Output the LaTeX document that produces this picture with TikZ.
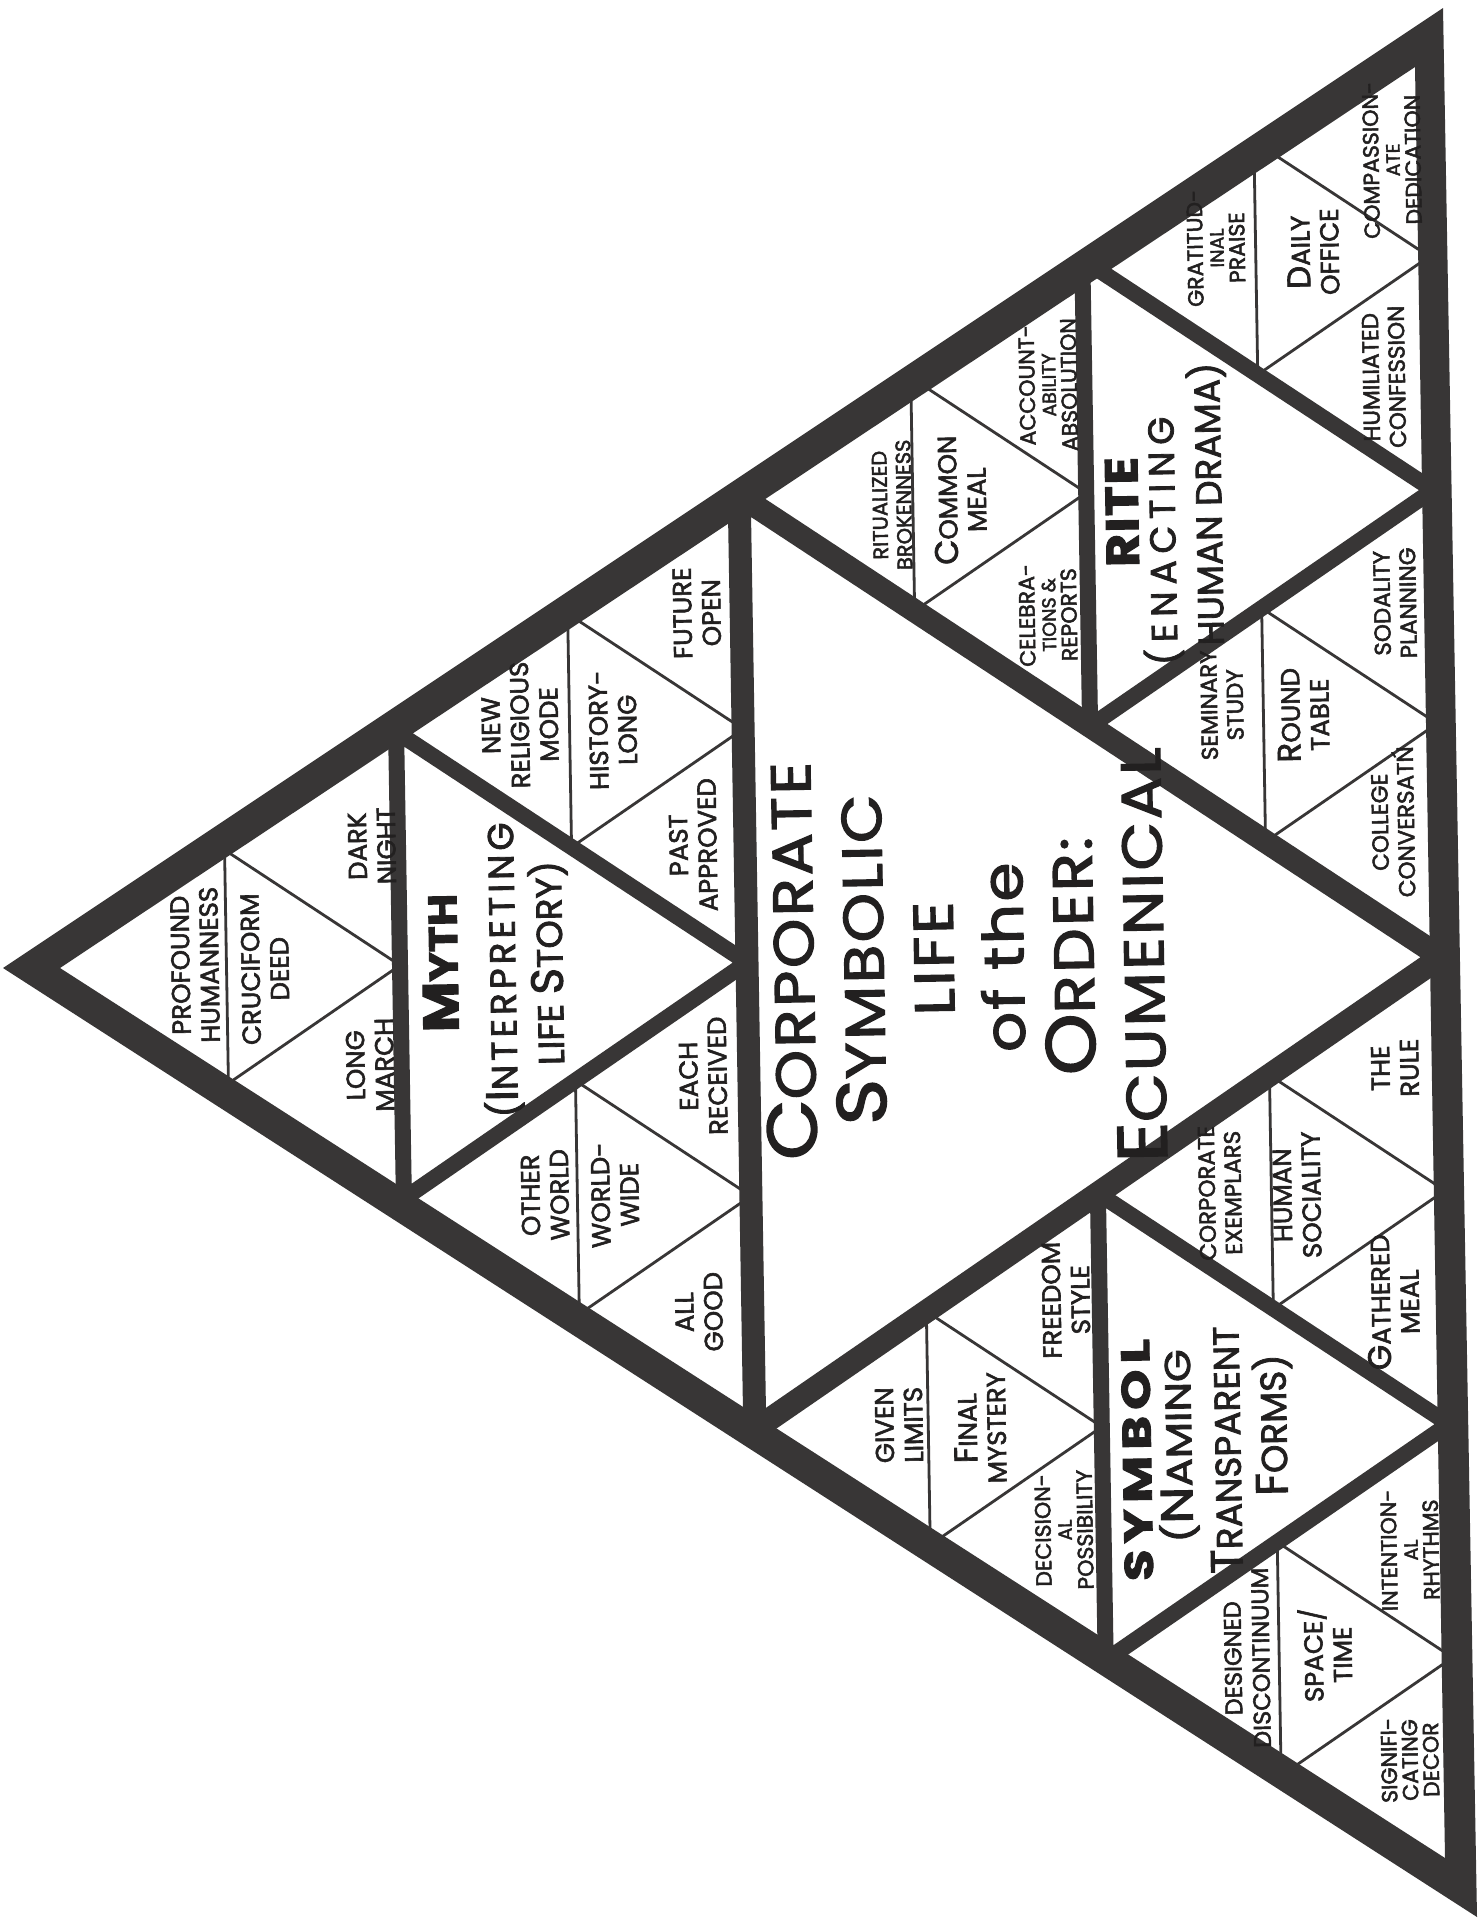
\documentclass[tikz,border=0pt]{standalone}
\usepackage{fontspec}
\usepackage{graphicx}
\setmainfont{Poppins}[FakeBold=2.2]
\definecolor{ink}{RGB}{56,54,54}
\definecolor{txt}{RGB}{34,32,32}
\newcommand\bigc[1]{\scalebox{1.25}{#1}}
\newcommand\md[1]{{\fontsize{9.5}{9.5}\selectfont #1}}
\newcommand\lsp[1]{\addfontfeature{LetterSpace=#1}}
\newcommand\thinsub[2]{\draw[lthree] (#1+0.0625,#2+0.125) -- (#1+0.1875,#2+0.125) -- (#1+0.125,#2) -- cycle;}
\newcommand\medsub[2]{%
  \thinsub{#1}{#2}\thinsub{#1+0.25}{#2}\thinsub{#1+0.125}{#2+0.25}%
  \draw[ltwo] (#1+0.125,#2+0.25) -- (#1+0.375,#2+0.25) -- (#1+0.25,#2) -- cycle;}
\begin{document}
\begin{tikzpicture}[x=0.5pt,y=-0.5pt,
  lone/.style={draw=ink,line width=11.5pt,line cap=round,line join=round},
  ltwo/.style={draw=ink,line width=8pt,line cap=round,line join=round},
  lthree/.style={draw=ink,line width=1.4pt,line cap=round,line join=round},
  lab/.style={rotate=91,align=center,text=txt,inner sep=0pt,font=\fontsize{13}{14.5}\selectfont},
  labs/.style={lab,font=\fontsize{11.5}{13}\selectfont},
  labr/.style={lab,font=\fontsize{10.5}{12}\selectfont},
  labt/.style={lab,font=\fontsize{11}{10.5}\selectfont},
  ttl/.style={rotate=91,text=txt,inner sep=0pt,font=\fontsize{20}{22}\selectfont\bfseries},
  subttl/.style={rotate=91,text=txt,inner sep=0pt,font=\fontsize{18}{20}\selectfont},
  corestyle/.style={rotate=91,xscale=1.12,align=center,text=txt,inner sep=0pt,font=\fontsize{28}{35}\selectfont\addfontfeature{LetterSpace=4}}]
\useasboundingbox[fill=white] (0,0) rectangle (1479,1923);
% --- subdivisions, in a frame whose base runs along the right border
\begin{scope}[shift={(728.3pt,-945.5pt)},x={(-15.6pt,934pt)},y={(-694pt,-5.5pt)}]
  \medsub{0}{0}
  \medsub{0.5}{0}
  \medsub{0.25}{0.5}
  \draw[lone] (0.25,0.5) -- (0.75,0.5) -- (0.5,0) -- cycle;
\end{scope}
% --- outer border
\coordinate (Ao) at (3,968);
\coordinate (To) at (1443,8);
\coordinate (Bo) at (1477,1917);
\coordinate (Ai) at (60,968);
\coordinate (Ti) at (1415,67);
\coordinate (Bi) at (1445,1858);
\fill[ink,even odd rule] (Ao) -- (To) -- (Bo) -- cycle (Ai) -- (Ti) -- (Bi) -- cycle;
% --- MYTH group
\node[lab] (n1) at (195,965) {PROFOUND\\HUMANNESS};
\node[lab] (n2) at (265,969) {CRUCIFORM\\DEED};
\node[lab] (n3) at (370,1065) {LONG\\MARCH};
\node[lab] (n4) at (372,846) {DARK\\NIGHT};
\node[ttl,xscale=1.1] (mythT) at (440,963) {\bigc{M}YTH};
\node[subttl] (mythA) at (502,970) {\lsp{11}(\bigc{I}NTERPRETING};
\node[subttl] (mythB) at (549,963) {LIFE \bigc{S}TORY)};
\node[lab] (n5) at (545,1195) {OTHER\\WORLD};
\node[lab] (n6) at (615,1195) {WORLD-\\WIDE};
\node[lab] (n7) at (703,1076) {EACH\\RECEIVED};
\node[lab] (n8) at (699,1312) {ALL\\GOOD};
\node[lab] (n9) at (520,725) {NEW\\RELIGIOUS\\MODE};
\node[lab] (n10) at (613,730) {HISTORY-\\LONG};
\node[lab] (n11) at (697,613) {FUTURE\\OPEN};
\node[lab] (n12) at (693,845) {PAST\\APPROVED};
% --- center
\node[corestyle] (core) at (964,958) {\bigc{C}ORPORATE\\\bigc{S}YMBOLIC\\LIFE\\of the\\\bigc{O}RDER:\\\bigc{E}CUMENICAL};
% --- SYMBOL group
\node[lab] (n13) at (899,1425) {GIVEN\\LIMITS};
\node[lab] (n14) at (980,1428) {\bigc{F}INAL\\MYSTERY};
\node[lab] (n15) at (1066,1300) {FREEDOM\\STYLE};
\node[labt] (n16) at (1064,1530) {DECISION-\\\md{AL}\\POSSIBILITY};
\node[ttl,xscale=1.28] (symT) at (1137,1460) {\lsp{12}SYMBOL};
\node[subttl,xscale=1.17] (symA) at (1178,1446) {(\bigc{N}AMING};
\node[subttl] (symB) at (1225,1450) {\bigc{T}RANSPARENT};
\node[subttl] (symC) at (1273,1425) {\bigc{F}ORMS)};
\node[labs] (n17) at (1220,1193) {CORPORATE\\EXEMPLARS};
\node[lab] (n18) at (1297,1195) {HUMAN\\SOCIALITY};
\node[lab] (n19) at (1393,1302) {\bigc{G}ATHERED\\MEAL};
\node[lab] (n20) at (1395,1068) {THE\\RULE};
\node[lab,font=\fontsize{12}{14}\selectfont] (n21) at (1247,1658) {DESIGNED\\DISCONTINUUM};
\node[lab] (n22) at (1325,1655) {SPACE/\\TIME};
\node[labt] (n23) at (1410,1760) {SIGNIFI-\\CATING\\DECOR};
\node[labt] (n24) at (1410,1550) {INTENTION-\\\md{AL}\\RHYTHMS};
% --- RITE group
\node[labr] (n25) at (892,505) {RITUALIZED\\BROKENNESS};
\node[lab] (n26) at (960,500) {\bigc{C}OMMON\\MEAL};
\node[labt] (n27) at (1048,615) {CELEBRA-\\\md{TIONS \&}\\REPORTS};
\node[labt] (n28) at (1048,385) {ACCOUNT-\\\md{ABILITY}\\ABSOLUTION};
\node[ttl,xscale=1.1,font=\fontsize{23}{25}\selectfont\bfseries] (riteT) at (1122,512) {\lsp{3}RITE};
\node[subttl] (riteA) at (1162,541) {\lsp{19}(ENACTING};
\node[subttl] (riteB) at (1208,504) {HUMAN DRAMA)};
\node[labt] (n29) at (1216,248) {GRATITUD-\\\md{INAL}\\PRAISE};
\node[lab] (n30) at (1313,252) {\bigc{D}AILY\\OFFICE};
\node[labt] (n31) at (1392,160) {COMPASSION-\\\md{ATE}\\DEDICATION};
\node[labs] (n32) at (1384,377) {HUMILIATED\\CONFESSION};
\node[labs] (n33) at (1222,705) {SEMINARY\\STUDY};
\node[lab] (n34) at (1303,715) {\bigc{R}OUND\\TABLE};
\node[labs] (n35) at (1395,603) {SODALITY\\PLANNING};
\node[labs] (n36) at (1393,822) {COLLEGE\\CONVERSATŃ};
\end{tikzpicture}
\end{document}
